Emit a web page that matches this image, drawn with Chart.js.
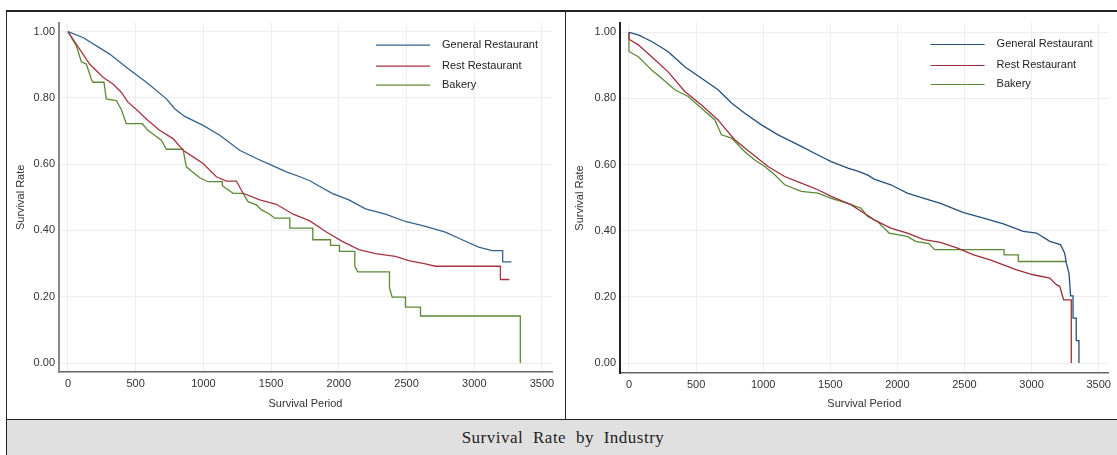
<!DOCTYPE html>
<html>
<head>
<meta charset="utf-8">
<title>Survival Rate by Industry</title>
<script src="https://cdn.jsdelivr.net/npm/chart.js@4.4.1/dist/chart.umd.min.js"></script>
<style>
  body { margin: 0; background: #fff; width: 1117px; height: 455px; overflow: hidden; position: relative; }
  .ln { position: absolute; background: #222; }
  .panel { position: absolute; top: 12px; height: 407px; }
  #caption {
    position: absolute; left: 7px; top: 420px; width: 1112px; height: 36px;
    background: #e0e0e0; text-align: center; line-height: 36px;
    font-family: "Liberation Serif", "DejaVu Serif", serif; font-size: 17px; color: #222;
    letter-spacing: 0.5px; word-spacing: 5px;
  }
</style>
</head>
<body>
<div class="panel" style="left:7px;width:557px"><canvas id="leftChart" width="557" height="407"></canvas></div>
<div class="panel" style="left:566px;width:550px"><canvas id="rightChart" width="550" height="407"></canvas></div>
<div id="caption">Survival Rate by Industry</div>
<div class="ln" style="left:6px;top:10px;width:1120px;height:2px"></div>
<div class="ln" style="left:6px;top:10px;width:1px;height:450px"></div>
<div class="ln" style="left:565px;top:10px;width:1px;height:410px"></div>
<div class="ln" style="left:6px;top:419px;width:1120px;height:1px"></div>
<script>
const seriesNames = ["General Restaurant", "Rest Restaurant", "Bakery"];
const xTicks = [0, 500, 1000, 1500, 2000, 2500, 3000, 3500];
const yTicks = [0, 0.2, 0.4, 0.6, 0.8, 1.0];

// left panel
const leftGeneralDays = [0, 111, 308, 431, 579, 727, 788, 862, 998, 1121, 1268, 1392, 1502, 1613, 1713, 1786, 1850, 1951, 2074, 2197, 2344, 2492, 2639, 2787, 2910, 3033, 3131, 3210, 3210, 3274];
const leftGeneralRate = [1.0, 0.982, 0.932, 0.892, 0.847, 0.797, 0.767, 0.744, 0.717, 0.687, 0.642, 0.617, 0.597, 0.577, 0.562, 0.550, 0.535, 0.512, 0.492, 0.465, 0.449, 0.427, 0.412, 0.395, 0.372, 0.350, 0.339, 0.339, 0.305, 0.305];

const leftRestDays = [0, 37, 86, 160, 259, 332, 394, 443, 505, 591, 677, 776, 850, 924, 998, 1096, 1170, 1244, 1293, 1416, 1539, 1663, 1786, 1902, 2025, 2148, 2271, 2418, 2516, 2639, 2713, 3193, 3193, 3259];
const leftRestRate = [1.0, 0.977, 0.947, 0.902, 0.862, 0.842, 0.817, 0.787, 0.765, 0.732, 0.702, 0.677, 0.642, 0.622, 0.602, 0.562, 0.549, 0.549, 0.512, 0.492, 0.479, 0.449, 0.429, 0.397, 0.367, 0.342, 0.330, 0.322, 0.309, 0.299, 0.292, 0.292, 0.252, 0.252];

const leftBakeryDays = [0, 25, 62, 99, 136, 172, 185, 266, 283, 357, 394, 431, 549, 591, 640, 690, 727, 850, 874, 911, 973, 1034, 1140, 1140, 1219, 1293, 1330, 1392, 1429, 1490, 1527, 1638, 1638, 1808, 1808, 1939, 1939, 2005, 2005, 2118, 2118, 2140, 2374, 2374, 2394, 2492, 2492, 2603, 2603, 3340, 3340];
const leftBakeryRate = [1.0, 0.982, 0.957, 0.909, 0.902, 0.857, 0.847, 0.847, 0.797, 0.792, 0.765, 0.722, 0.722, 0.702, 0.687, 0.672, 0.645, 0.645, 0.592, 0.579, 0.559, 0.547, 0.547, 0.535, 0.512, 0.512, 0.487, 0.477, 0.462, 0.449, 0.437, 0.437, 0.407, 0.407, 0.372, 0.372, 0.355, 0.355, 0.337, 0.337, 0.292, 0.275, 0.275, 0.227, 0.199, 0.199, 0.169, 0.169, 0.142, 0.142, 0.0];

// right panel
const rightGeneralDays = [0, 69, 169, 290, 416, 540, 664, 764, 863, 987, 1111, 1284, 1408, 1507, 1631, 1704, 1780, 1827, 1951, 2074, 2198, 2321, 2494, 2642, 2790, 2938, 3037, 3136, 3215, 3247, 3259, 3279, 3291, 3309, 3309, 3333, 3333, 3353, 3353];
const rightGeneralRate = [1.0, 0.992, 0.972, 0.942, 0.896, 0.861, 0.826, 0.786, 0.755, 0.720, 0.690, 0.655, 0.629, 0.609, 0.589, 0.580, 0.568, 0.556, 0.539, 0.514, 0.498, 0.483, 0.455, 0.438, 0.421, 0.398, 0.393, 0.368, 0.358, 0.332, 0.302, 0.272, 0.203, 0.203, 0.136, 0.136, 0.068, 0.068, 0.0];

const rightRestDays = [0, 0, 69, 169, 290, 416, 540, 664, 714, 788, 912, 1036, 1160, 1284, 1408, 1507, 1656, 1780, 1827, 1951, 2074, 2198, 2321, 2444, 2568, 2691, 2790, 2889, 3012, 3136, 3185, 3210, 3239, 3296, 3296];
const rightRestRate = [1.0, 0.979, 0.962, 0.926, 0.881, 0.821, 0.780, 0.735, 0.710, 0.675, 0.634, 0.594, 0.564, 0.544, 0.524, 0.504, 0.478, 0.446, 0.433, 0.408, 0.393, 0.373, 0.365, 0.348, 0.327, 0.312, 0.297, 0.282, 0.267, 0.257, 0.237, 0.232, 0.191, 0.191, 0.0];

const rightBakeryDays = [0, 0, 69, 119, 169, 243, 342, 441, 540, 640, 689, 764, 863, 937, 1012, 1086, 1160, 1284, 1408, 1507, 1631, 1730, 1778, 1852, 1938, 2074, 2136, 2235, 2277, 2795, 2795, 2901, 2901, 3259];
const rightBakeryRate = [1.0, 0.942, 0.926, 0.906, 0.886, 0.861, 0.826, 0.806, 0.770, 0.735, 0.690, 0.680, 0.639, 0.614, 0.594, 0.569, 0.539, 0.519, 0.514, 0.498, 0.483, 0.468, 0.443, 0.428, 0.393, 0.383, 0.368, 0.361, 0.343, 0.343, 0.327, 0.327, 0.307, 0.307];

function pts(days, rate) {
  return days.map((d, i) => ({ x: d, y: rate[i] }));
}

const FONT = '"Liberation Sans", Arial, sans-serif';

// legend drawn inside the plot, top right
const insideLegend = {
  id: 'insideLegend',
  afterDraw(chart, args, opts) {
    const { ctx, chartArea } = chart;
    ctx.save();
    ctx.font = '11px ' + FONT;
    ctx.textBaseline = 'middle';
    chart.data.datasets.forEach((ds, i) => {
      const y = chartArea.top + opts.rows[i];
      const x0 = chartArea.right - opts.fromRight;
      ctx.strokeStyle = ds.borderColor;
      ctx.lineWidth = 1.2;
      ctx.beginPath();
      ctx.moveTo(x0, y + 0.5);
      ctx.lineTo(x0 + 54, y + 0.5);
      ctx.stroke();
      ctx.fillStyle = '#222';
      ctx.fillText(ds.label, x0 + 66, y);
    });
    ctx.restore();
  }
};

function makeChart(id, series, colors, geo) {
  const datasets = series.map((s, i) => ({
    label: seriesNames[i],
    data: pts(s[0], s[1]),
    borderColor: colors[i],
    borderWidth: 1.3,
    pointRadius: 0,
    fill: false,
    tension: 0
  }));

  return new Chart(document.getElementById(id), {
    type: 'line',
    data: { datasets: datasets },
    plugins: [insideLegend],
    options: {
      responsive: false,
      animation: false,
      layout: { padding: { left: 0, right: geo.padRight, top: geo.padTop, bottom: 8 } },
      plugins: {
        legend: { display: false },
        tooltip: { enabled: false },
        insideLegend: { rows: geo.rows, fromRight: geo.fromRight }
      },
      scales: {
        x: {
          type: 'linear',
          min: geo.xMin,
          max: geo.xMax,
          afterBuildTicks: sc => { sc.ticks = xTicks.map(v => ({ value: v })); },
          afterFit: sc => { sc.height = geo.xHeight; },
          grid: { color: '#ededed', drawTicks: false },
          border: { display: true, color: geo.xAxisColor, width: 1.5 },
          ticks: { padding: 5, color: '#333', font: { family: FONT, size: 11 }, maxRotation: 0, callback: v => String(v) },
          title: { display: true, text: 'Survival Period', color: '#333', font: { family: FONT, size: 11 }, padding: { top: 4, bottom: 0 } }
        },
        y: {
          min: geo.yMin,
          max: geo.yMax,
          afterBuildTicks: sc => { sc.ticks = yTicks.map(v => ({ value: v })); },
          afterFit: sc => { sc.width = geo.yWidth; },
          grid: { color: '#ededed', drawTicks: false },
          border: { display: true, color: geo.yAxisColor, width: 2 },
          ticks: { padding: 4, color: '#333', font: { family: FONT, size: 11 }, callback: v => v.toFixed(2) },
          title: { display: true, text: 'Survival Rate', color: '#333', font: { family: FONT, size: 11 }, padding: { top: 7, bottom: 0 } }
        }
      }
    }
  });
}

makeChart('leftChart',
  [[leftGeneralDays, leftGeneralRate], [leftRestDays, leftRestRate], [leftBakeryDays, leftBakeryRate]],
  ['#33628f', '#a8343f', '#5b8a36'],
  { padRight: 12, padTop: 8, xHeight: 39, yWidth: 52, xMin: -66, xMax: 3574, yMin: -0.027, yMax: 1.027,
    rows: [22, 43, 62], fromRight: 176, xAxisColor: '#666', yAxisColor: '#888' });

makeChart('rightChart',
  [[rightGeneralDays, rightGeneralRate], [rightRestDays, rightRestRate], [rightBakeryDays, rightBakeryRate]],
  ['#24507e', '#9e2f3a', '#5b8a36'],
  { padRight: 5, padTop: 11, xHeight: 38, yWidth: 54, xMin: -67, xMax: 3574, yMin: -0.03, yMax: 1.028,
    rows: [21, 42, 61], fromRight: 178, xAxisColor: '#666', yAxisColor: '#222' });
</script>
</body>
</html>
